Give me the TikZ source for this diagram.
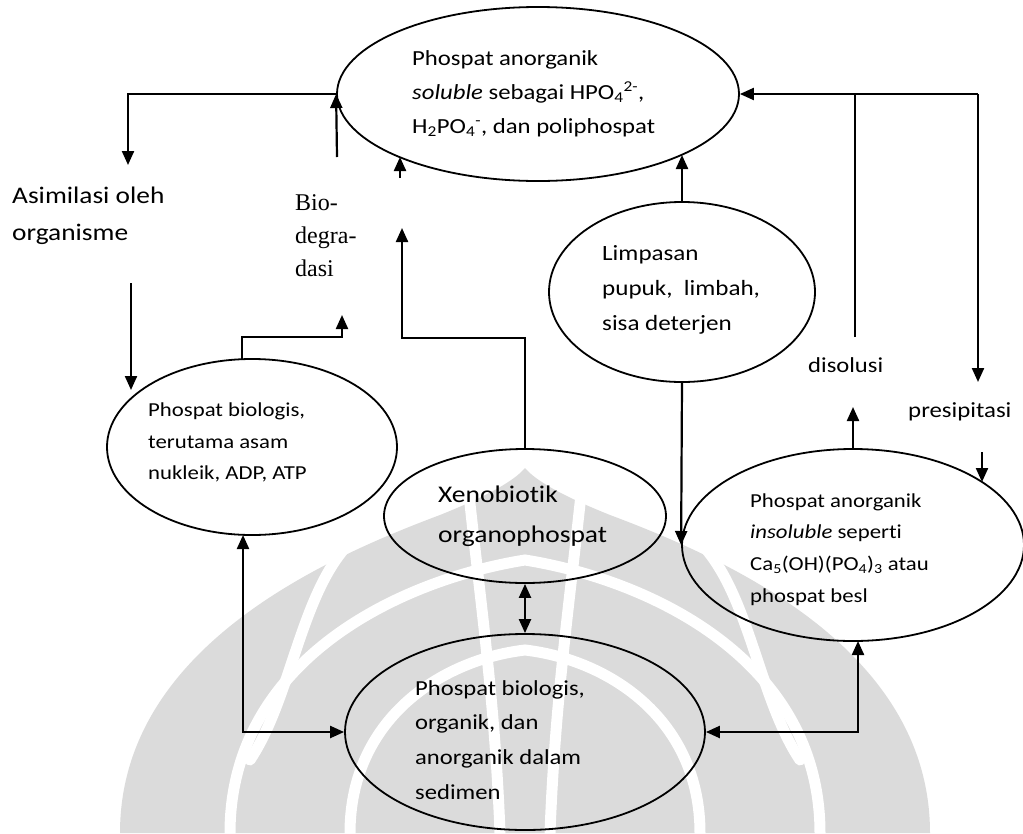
\documentclass[tikz,border=0pt]{standalone}
\usepackage{fontspec}
\setmainfont{Carlito}[FakeStretch=1.15,Ligatures=NoCommon]
\newfontfamily\bioserif{Liberation Serif}
\usetikzlibrary{arrows.meta,shapes.geometric}
\tikzset{
  ell/.style={draw, ellipse, line width=1.8pt, inner sep=0pt},
  txt/.style={anchor=west, align=left, inner sep=0pt},
  lbl/.style={anchor=base west, inner sep=0pt},
  ln/.style={line width=2.2pt},
  arr/.style={line width=2.2pt, -{Triangle[length=14pt,width=12pt]}},
  darr/.style={line width=2.2pt, {Triangle[length=14pt,width=12pt]}-{Triangle[length=14pt,width=12pt]}},
  wm/.style={fill=black!14},
  wml/.style={draw=white, line width=11pt, line cap=round},
}
\begin{document}
\begin{tikzpicture}[x=1pt,y=-1pt]
\useasboundingbox (0,0) rectangle (1023,833);
\fill[white] (0,0) rectangle (1023,833);
% watermark (approximate)
\begin{scope}
\fill[wm] (120,833) .. controls (120,650) and (320,560) .. (440,515) .. controls (490,495) and (515,480) .. (525,468) .. controls (535,480) and (560,495) .. (610,515) .. controls (730,560) and (930,650) .. (930,833) -- cycle;
\draw[wml] (230,833) .. controls (230,660) and (400,580) .. (525,560) .. controls (650,580) and (820,660) .. (820,833);
\draw[wml] (350,833) .. controls (350,720) and (440,660) .. (525,650) .. controls (610,660) and (700,720) .. (700,833);
\draw[wml] (500,833) .. controls (495,700) and (480,600) .. (468,485);
\draw[wml] (550,833) .. controls (555,700) and (570,600) .. (582,485);
\draw[wml] (345,548) .. controls (300,600) and (290,700) .. (250,760);
\draw[wml] (705,548) .. controls (750,600) and (760,700) .. (800,760);
\end{scope}
% ellipses
\node[ell, minimum width=402pt, minimum height=174pt] (top) at (538,94) {};
\node[ell, minimum width=266pt, minimum height=180pt] (lim) at (682,292) {};
\node[ell, minimum width=290pt, minimum height=176pt] (bio) at (252,447) {};
\node[ell, minimum width=282pt, minimum height=134pt] (xeno) at (525,516) {};
\node[ell, minimum width=360pt, minimum height=196pt] (sed) at (525,732) {};
\node[ell, minimum width=342pt, minimum height=192pt] (ins) at (853,545) {};
% texts
\node[txt, font=\fontsize{21.5}{34}\selectfont] (ttop) at (412,93.5) {Phospat anorganik\\\textit{soluble} sebagai HPO\textsubscript{4}\textsuperscript{2-},\\H\textsubscript{2}PO\textsubscript{4}\textsuperscript{-}, dan poliphospat};
\node[txt, font=\fontsize{21.8}{35}\selectfont] (tlim) at (602,289.5) {Limpasan\\pupuk,\ \ limbah,\\sisa deterjen};
\node[txt, font=\fontsize{19.8}{31.5}\selectfont] (tbio) at (148,442.5) {Phospat biologis,\\terutama asam\\nukleik, ADP, ATP};
\node[txt, font=\fontsize{23.9}{40}\selectfont] (txeno) at (438,516) {Xenobiotik\\organophospat};
\node[txt, font=\fontsize{21.4}{34.7}\selectfont] (tsed) at (415,739.7) {Phospat biologis,\\organik, dan\\anorganik dalam\\sedimen};
\node[txt, font=\fontsize{19.8}{31.7}\selectfont] (tins) at (750,549.5) {Phospat anorganik\\\textit{insoluble} seperti\\Ca\textsubscript{5}(OH)(PO\textsubscript{4})\textsubscript{3} atau\\phospat besl};
\node[txt, font=\fontsize{23.8}{37}\selectfont] (asim) at (12,215.5) {Asimilasi oleh\\organisme};
\node[txt, font=\bioserif\fontsize{24}{33}\selectfont] (biodeg) at (295,236) {Bio-\\degra-\\dasi};
\node[lbl, font=\fontsize{21.4}{26}\selectfont] (dis) at (808,372) {disolusi};
\node[lbl, font=\fontsize{21.6}{26}\selectfont] (pre) at (908,417) {presipitasi};
% coordinates
\coordinate (a1) at (128,165);
\coordinate (bd1) at (337,157);
\coordinate (s1) at (400,178);
\coordinate (s2) at (400,157);
\coordinate (x0) at (402,338);
\coordinate (x1) at (402,228);
\coordinate (b0) at (242,360);
\coordinate (b1) at (342,337);
\coordinate (b2) at (342,315);
\coordinate (o1) at (131,283);
\coordinate (o2) at (131,390);
\coordinate (bb) at (243,535);
\coordinate (ib) at (858,641);
\coordinate (lt) at (682,155);
\coordinate (r1) at (978,94);
\coordinate (r2) at (978,382);
\coordinate (d1) at (855,337);
\coordinate (du) at (853,407);
\coordinate (p1) at (982,452);
\coordinate (p2) at (982,482);
% connectors
\draw[arr] (top.west) -| (a1);
\draw[arr] (bd1) -- (top.west);
\draw[arr] (s1) -- (s2);
\draw[arr] (xeno.north) |- (x0) -- (x1);
\draw[arr] (b0) |- (b1) -- (b2);
\draw[arr] (o1) -- (o2);
\draw[darr] (bb) |- (sed.west);
\draw[darr] (ib) |- (sed.east);
\draw[darr] (xeno.south) -- (sed.north);
\draw[arr] (lim.north) -- (lt);
\draw[arr] (lim.south) -- (ins.west);
\draw[arr] (r1) -- (top.east);
\draw[arr] (r1) -- (r2);
\draw[ln] (d1) -- (d1 |- top.east);
\draw[arr] (ins.north) -- (du);
\draw[arr] (p1) -- (p2);
\end{tikzpicture}
\end{document}
